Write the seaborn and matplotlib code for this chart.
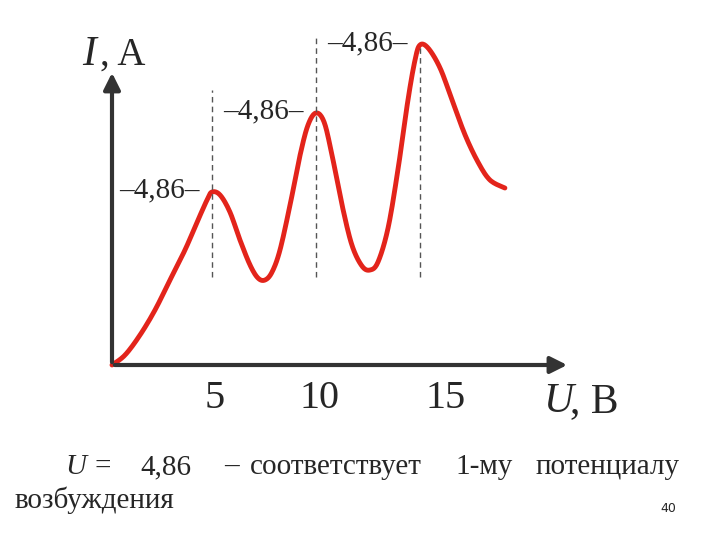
import matplotlib
matplotlib.use("Agg")
import matplotlib.pyplot as plt
import numpy as np
import seaborn as sns

sns.set_style("white")
plt.rcParams['font.family'] = ['Liberation Serif', 'DejaVu Serif']

# U in volts, I in arbitrary units
U = [0, 0.61, 1.31, 2.01, 2.71, 3.41, 4.02, 4.44, 4.67, 5.05, 5.51, 5.98, 6.45, 6.82, 7.15,
     7.48, 7.85, 8.32, 8.79, 9.16, 9.53, 9.91, 10.28, 10.75, 11.21, 11.68, 12.06, 12.43,
     12.90, 13.36, 13.83, 14.16, 14.39, 14.77, 15.33, 15.89, 16.50, 17.10, 17.66, 18.36]
I = [0, 0.10, 0.30, 0.55, 0.85, 1.15, 1.45, 1.65, 1.73, 1.70, 1.53, 1.25, 1.00, 0.87, 0.85,
     0.93, 1.15, 1.60, 2.10, 2.40, 2.52, 2.43, 2.10, 1.60, 1.20, 0.99, 0.95, 1.03,
     1.37, 1.95, 2.65, 3.05, 3.20, 3.17, 2.97, 2.65, 2.30, 2.03, 1.85, 1.77]
peaks_U = [4.67, 9.53, 14.39]
peaks_I = [1.73, 2.52, 3.20]
dash_top = [2.75, 3.30, 3.20]
tick_U = [4.8, 9.7, 15.6]
tick_labels = ["5", "10", "15"]


def smooth(x, y, n=12):
    # Catmull-Rom drawing of the read points
    p = np.column_stack([x, y])
    p = np.vstack([p[0], p, p[-1]])
    out = []
    for i in range(1, len(p) - 2):
        p0, p1, p2, p3 = p[i - 1], p[i], p[i + 1], p[i + 2]
        for t in np.linspace(0, 1, n, endpoint=False):
            out.append(0.5 * ((2 * p1) + (-p0 + p2) * t + (2 * p0 - 5 * p1 + 4 * p2 - p3) * t ** 2
                              + (-p0 + 3 * p1 - 3 * p2 + p3) * t ** 3))
    out.append(p[-2])
    out = np.array(out)
    return out[:, 0], out[:, 1]


fig = plt.figure(figsize=(7.2, 5.4), dpi=100)
ax = fig.add_axes([112/720, 175/540, 458/720, 330/540])
ax.set_xlim(0, 458/21.4)
ax.set_ylim(0, 3.3)
ax.axis("off")

sx, sy = smooth(U, I)
sns.lineplot(x=sx, y=sy, ax=ax, color="#e3241b", linewidth=3.5, sort=False, clip_on=False)

for pu, pi, top in zip(peaks_U, peaks_I, dash_top):
    ax.plot([pu, pu], [0.88, top], ls=(0, (4, 3)), color="#555555", lw=1, clip_on=False)
    ax.text(pu - 2.45, pi + 0.02, "–4,86–", fontsize=21, ha="center", va="center", clip_on=False)

# axes arrows
ax.annotate("", xy=(21.4, 0), xytext=(0, 0), annotation_clip=False,
            arrowprops=dict(arrowstyle="-|>", color="#333333", lw=3, mutation_scale=25))
ax.annotate("", xy=(0, 2.95), xytext=(0, 0), annotation_clip=False,
            arrowprops=dict(arrowstyle="-|>", color="#333333", lw=3, mutation_scale=25))
for tu, tl in zip(tick_U, tick_labels):
    ax.text(tu, -0.33, tl, fontsize=29, ha="center", va="center")

fig.text(82/720, 1 - 55/540, "I", fontsize=30, style="italic", ha="left", va="center")
fig.text(100/720, 1 - 55/540, ", A", fontsize=28, ha="left", va="center")
fig.text(543/720, 1 - 402/540, "U", fontsize=30, style="italic", ha="left", va="center")
fig.text(570/720, 1 - 402/540, ", B", fontsize=30, ha="left", va="center")

line_words = ["U", "=", "4,86", "–", "соответствует", "1-му", "потенциалу"]
word_x = [65, 95, 140, 224, 250, 455, 536]
for w, xpx in zip(line_words, word_x):
    fig.text(xpx/720, 1 - 467/540, w, fontsize=21, ha="left", va="center",
             style="italic" if w == "U" else "normal")
fig.text(15/720, 1 - 500/540, "возбуждения", fontsize=21, ha="left", va="center")
fig.text(668/720, 1 - 508/540, "40", fontsize=9, ha="center", va="center", family="DejaVu Sans")

fig.savefig("out.png", dpi=100)
